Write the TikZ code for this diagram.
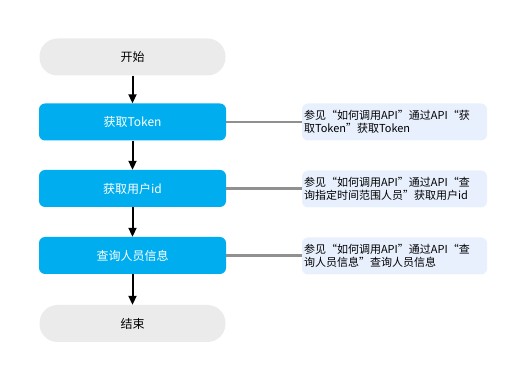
\documentclass[tikz,border=0pt]{standalone}
\usepackage{fontspec}
\setmainfont{Noto Sans CJK SC}
\usetikzlibrary{arrows.meta}
\definecolor{stepblue}{HTML}{00AEEF}
\definecolor{termgray}{HTML}{EBEBEB}
\definecolor{notebg}{HTML}{E8F0FE}
\definecolor{linkgray}{HTML}{909090}
\begin{document}
\begin{tikzpicture}[x=1pt,y=-1pt,
  term/.style={fill=termgray, rounded corners=18pt, minimum width=186pt, minimum height=37pt, font=\fontsize{12pt}{14pt}\selectfont, text=black, inner sep=0pt},
  stepbox/.style={fill=stepblue, rounded corners=6pt, minimum width=187pt, minimum height=37pt, font=\fontsize{12pt}{14pt}\selectfont, text=white, inner sep=0pt},
  note/.style={fill=notebg, rounded corners=6pt, minimum width=185pt, minimum height=37pt, text width=181pt, align=left, font=\fontsize{11pt}{13pt}\selectfont, text=black, inner sep=2pt},
  flow/.style={-{Triangle[length=9pt,width=8pt]}, line width=2pt, black},
  link/.style={line width=2.2pt, linkgray}
]
\useasboundingbox (0,0) rectangle (525,379);
\node[term] (start) at (132.5,57) {开始};
\node[stepbox] (token) at (132.5,122) {获取Token};
\node[stepbox] (uid) at (132.5,188.5) {获取用户id};
\node[stepbox] (info) at (132.5,255.5) {查询人员信息};
\node[term] (end) at (132.5,323.5) {结束};
\node[note] (n1) at (394.5,122) {参见“如何调用API”通过API“获\\取Token”获取Token};
\node[note] (n2) at (394.5,189) {参见“如何调用API”通过API“查\\询指定时间范围人员”获取用户id};
\node[note] (n3) at (394.5,256) {参见“如何调用API”通过API“查\\询人员信息”查询人员信息};
\draw[flow] (start) -- (token);
\draw[flow] (token) -- (uid);
\draw[flow] (uid) -- (info);
\draw[flow] (info) -- (end);
\draw[link] (token.east) -- (token.east -| n1.west);
\draw[link] (uid.east) -- (uid.east -| n2.west);
\draw[link] (info.east) -- (info.east -| n3.west);
\end{tikzpicture}
\end{document}
